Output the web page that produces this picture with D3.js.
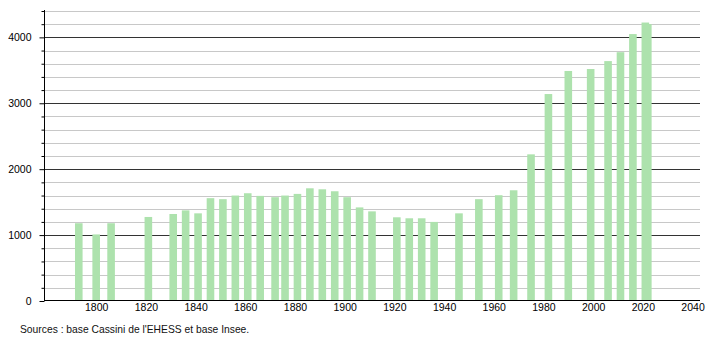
<!DOCTYPE html>
<html>
<head>
<meta charset="utf-8">
<script src="https://cdn.jsdelivr.net/npm/d3@7"></script>
<style>
  body { margin: 0; background: #fff; }
  svg text { font-family: "Liberation Sans", Arial, sans-serif; }
</style>
</head>
<body>
<div id="chart"></div>
<script>
// census years and population
var years = [1793, 1800, 1806, 1821, 1831, 1836, 1841, 1846, 1851, 1856, 1861, 1866,
             1872, 1876, 1881, 1886, 1891, 1896, 1901, 1906, 1911, 1921, 1926, 1931,
             1936, 1946, 1954, 1962, 1968, 1975, 1982, 1990, 1999, 2006, 2011, 2016,
             2021, 2022];
var population = [1180, 1010, 1180, 1275, 1320, 1375, 1330, 1560, 1545, 1600, 1635, 1595,
                  1575, 1600, 1625, 1710, 1695, 1665, 1575, 1420, 1360, 1270, 1255, 1255,
                  1200, 1330, 1545, 1605, 1680, 2225, 3140, 3490, 3520, 3640, 3775, 4050,
                  4225, 4200];
var xTickYears = [1800, 1820, 1840, 1860, 1880, 1900, 1920, 1940, 1960, 1980, 2000, 2020, 2040];
var yMajor = [0, 1000, 2000, 3000, 4000];
var sourceText = "Sources : base Cassini de l'EHESS et base Insee.";

var width = 710, height = 340;

var svg = d3.select("#chart").append("svg")
    .attr("width", width)
    .attr("height", height);

var x = d3.scaleLinear().domain([1779, 2043]).range([44, 700]);
var y = d3.scaleLinear().domain([0, 4400]).range([301, 11]);

var minorVals = d3.range(200, 4401, 200).filter(function(v) { return v % 1000 != 0; });

// light grid every 200
svg.append("g").selectAll("line")
    .data(minorVals)
    .enter().append("line")
    .attr("x1", 44).attr("x2", 700)
    .attr("y1", function(d) { return Math.round(y(d)) + 0.5; })
    .attr("y2", function(d) { return Math.round(y(d)) + 0.5; })
    .style("stroke", "#c8c8c8");

// dark grid every 1000
svg.append("g").selectAll("line")
    .data(yMajor.slice(1))
    .enter().append("line")
    .attr("x1", 44).attr("x2", 700)
    .attr("y1", function(d) { return Math.round(y(d)) + 0.5; })
    .attr("y2", function(d) { return Math.round(y(d)) + 0.5; })
    .style("stroke", "#333");

// bars
var data = years.map(function(yr, i) { return { year: yr, pop: population[i] }; });
var barW = 7.6;
svg.append("g").selectAll("rect")
    .data(data)
    .enter().append("rect")
    .attr("x", function(d) { return x(d.year) - barW / 2; })
    .attr("y", function(d) { return y(d.pop); })
    .attr("width", barW)
    .attr("height", function(d) { return y(0) - y(d.pop); })
    .style("fill", "#ade2ad");

// y axis, major ticks with labels
var yAxis = svg.append("g")
    .attr("transform", "translate(44.5,0)")
    .call(d3.axisLeft(y).tickValues(yMajor).tickSize(5).tickPadding(8).tickFormat(d3.format("d")));
yAxis.select(".domain").remove();
yAxis.selectAll("line").style("stroke", "#000");
yAxis.selectAll("text").style("font-size", "10.5px").style("fill", "#000");

// minor ticks
var yMinor = svg.append("g")
    .attr("transform", "translate(44.5,0)")
    .call(d3.axisLeft(y).tickValues(minorVals).tickSize(3).tickFormat(""));
yMinor.select(".domain").remove();
yMinor.selectAll("line").style("stroke", "#000");

// axis lines
svg.append("line")
    .attr("x1", 44.5).attr("x2", 44.5)
    .attr("y1", 10).attr("y2", 301)
    .style("stroke", "#000");
svg.append("line")
    .attr("x1", 44).attr("x2", 700)
    .attr("y1", 300.5).attr("y2", 300.5)
    .style("stroke", "#000");

// x axis labels
var xAxis = svg.append("g")
    .attr("transform", "translate(0,301)")
    .call(d3.axisBottom(x).tickValues(xTickYears).tickSize(0).tickPadding(3).tickFormat(d3.format("d")));
xAxis.select(".domain").remove();
xAxis.selectAll("text").style("font-size", "10.5px").style("fill", "#000");

// source note
svg.append("text")
    .attr("x", 20)
    .attr("y", 333)
    .style("font-size", "10.3px")
    .style("fill", "#111")
    .text(sourceText);
</script>
</body>
</html>
